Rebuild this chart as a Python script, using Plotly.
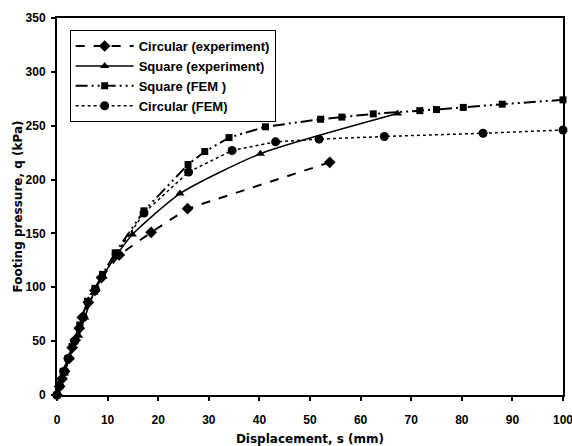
import plotly.graph_objects as go

circ_exp_x = [0, 0.5, 1.0, 1.5, 2.4, 3.0, 3.6, 4.4, 5.0, 6.2, 7.5, 8.8, 12.3, 18.6, 25.8, 53.9]
circ_exp_y = [0, 8, 15, 22, 34, 44, 51, 62, 72, 86, 97, 109, 130, 151, 173, 216]

sq_exp_x = [0, 0.7, 1.5, 2.5, 3.2, 4.3, 5.5, 7.3, 9.0, 11.5, 14.9, 24.3, 40.2, 67.3]
sq_exp_y = [0, 10, 20, 35, 45, 55, 72, 95, 110, 128, 149, 187, 224, 261.3]

sq_fem_x = [0, 0.5, 1.2, 2.2, 3.0, 4.5, 6.0, 7.5, 9.0, 11.5, 17.2, 25.9, 29.2, 34.0, 41.2,
            52.1, 56.3, 62.5, 71.7, 75.0, 80.3, 88.0, 100.0]
sq_fem_y = [0, 10, 22, 34, 45, 65, 87, 99, 112, 132, 171, 214, 226, 239, 249,
            256, 258, 261, 264, 265, 267, 270, 274]

circ_fem_x = [0, 0.5, 1.5, 2.2, 3.5, 5.2, 7.6, 11.7, 17.2, 26.0, 34.6, 43.2, 51.8, 64.7, 84.2, 100.0]
circ_fem_y = [0, 8, 22, 34, 50, 72, 98, 131, 169, 207, 227, 235, 237.5, 240, 243, 246]

fig = go.Figure()
fig.add_trace(go.Scatter(x=circ_exp_x, y=circ_exp_y, name="Circular (experiment)",
                         mode="lines+markers", cliponaxis=False,
                         line=dict(color="black", width=2, dash="dash"),
                         marker=dict(symbol="diamond", size=9, color="black")))
fig.add_trace(go.Scatter(x=sq_exp_x, y=sq_exp_y, name="Square (experiment)",
                         mode="lines+markers", cliponaxis=False,
                         line=dict(color="black", width=1.5, dash="solid", shape="spline", smoothing=0.6),
                         marker=dict(symbol="triangle-up", size=8, color="black")))
fig.add_trace(go.Scatter(x=sq_fem_x, y=sq_fem_y, name="Square (FEM )",
                         mode="lines+markers", cliponaxis=False,
                         line=dict(color="black", width=2, dash="12px,4px,2px,4px,2px,4px"),
                         marker=dict(symbol="square", size=7, color="black")))
fig.add_trace(go.Scatter(x=circ_fem_x, y=circ_fem_y, name="Circular (FEM)",
                         mode="lines+markers", cliponaxis=False,
                         line=dict(color="black", width=1.5, dash="dot"),
                         marker=dict(symbol="circle", size=9, color="black")))

tick_font = dict(family="Liberation Sans, Arial", size=12, color="black", weight="bold")
title_font = dict(family="DejaVu Sans, Arial", size=12, color="black", weight="bold")

fig.update_layout(
    width=572, height=446,
    margin=dict(l=57, r=9, t=18, b=51),
    paper_bgcolor="white", plot_bgcolor="white",
    showlegend=True,
    legend=dict(x=0.025, y=0.968, xanchor="left", yanchor="top",
                bgcolor="white", bordercolor="black", borderwidth=1,
                font=dict(family="Liberation Sans, Arial", size=13, color="black", weight="bold"),
                tracegroupgap=0, itemwidth=58),
    xaxis=dict(range=[0, 100], dtick=10, showgrid=False, zeroline=False,
               showline=True, linecolor="black", linewidth=2, mirror=True,
               ticks="outside", ticklen=4, tickcolor="black", tickwidth=1.5,
               tickfont=tick_font, ticklabelstandoff=9, automargin=False,
               ticklabeloverflow="allow",
               title=dict(text="Displacement, s (mm)", font=title_font, standoff=11)),
    yaxis=dict(range=[0, 350], dtick=50, showgrid=False, zeroline=False,
               showline=True, linecolor="black", linewidth=2, mirror=True,
               ticks="outside", ticklen=4, tickcolor="black", tickwidth=1.5,
               tickfont=tick_font, ticklabelstandoff=3, automargin=False,
               ticklabeloverflow="allow",
               title=dict(text="Footing pressure, q (kPa)", font=title_font, standoff=0)),
)

fig.write_html("out.html")
